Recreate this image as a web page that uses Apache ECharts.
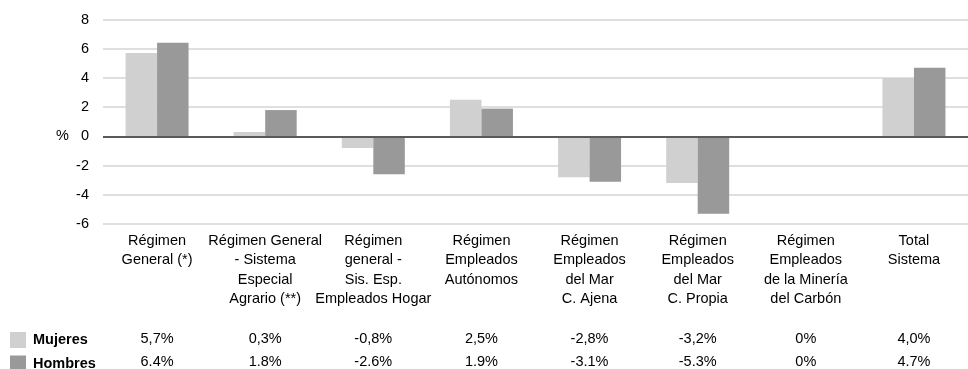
<!DOCTYPE html>
<html>
<head>
<meta charset="utf-8">
<script src="https://cdn.jsdelivr.net/npm/echarts@6/dist/echarts.min.js"></script>
<style>
  html, body { margin: 0; padding: 0; background: #fff; }
  #chart { width: 968px; height: 369px; }
</style>
</head>
<body>
<div id="chart"></div>
<script>
// Regímenes de la Seguridad Social
const categories = [
  'Régimen\nGeneral (*)',
  'Régimen General\n- Sistema\nEspecial\nAgrario (**)',
  'Régimen\ngeneral -\nSis. Esp.\nEmpleados Hogar',
  'Régimen\nEmpleados\nAutónomos',
  'Régimen\nEmpleados\ndel Mar\nC. Ajena',
  'Régimen\nEmpleados\ndel Mar\nC. Propia',
  'Régimen\nEmpleados\nde la Minería\ndel Carbón',
  'Total\nSistema'
];
const mujeres = [5.7, 0.3, -0.8, 2.5, -2.8, -3.2, 0, 4.0];
const hombres = [6.4, 1.8, -2.6, 1.9, -3.1, -5.3, 0, 4.7];
const yTicks = { min: -6, max: 8, interval: 2 };

const FONT = "'Liberation Sans', Arial, sans-serif";
const FS = 14.5;

// percentage text for the table rows (Mujeres uses a comma, Hombres a dot)
function pct(v, sep) {
  if (v === 0) return '0%';
  return v.toFixed(1).replace('.', sep) + '%';
}

const tableAxis = (offset, values, sep) => ({
  type: 'category',
  data: categories,
  gridIndex: 0,
  position: 'bottom',
  offset: offset,
  axisLine: { show: false },
  axisTick: { show: false },
  splitLine: { show: false },
  axisLabel: {
    interval: 0,
    margin: 0,
    color: '#000',
    fontFamily: FONT,
    fontSize: FS,
    lineHeight: 19.5,
    formatter: (v, i) => pct(values[i], sep)
  }
});

const legendRow = (name, top) => ({
  orient: 'vertical',
  left: 5,
  top: top,
  itemWidth: 16,
  itemHeight: 16,
  icon: 'rect',
  itemStyle: { borderWidth: 0 },
  textStyle: { color: '#000', fontFamily: FONT, fontSize: FS, fontWeight: 'bold', lineHeight: 16, padding: [0, 0, 0, 2] },
  data: [name]
});

const chart = echarts.init(document.getElementById('chart'), null, { renderer: 'canvas' });
chart.setOption({
  animation: false,
  backgroundColor: '#fff',
  textStyle: { fontFamily: FONT },
  grid: {
    left: 103, right: 0, top: 19.5, bottom: 145,
    containLabel: false,
    outerBoundsMode: 'none'
  },
  legend: [legendRow('Mujeres', 327), legendRow('Hombres', 350.5)],
  xAxis: [
    {
      type: 'category',
      data: categories,
      gridIndex: 0,
      position: 'bottom',
      axisLine: { show: false, onZero: false },
      axisTick: { show: false },
      splitLine: { show: false },
      axisLabel: {
        interval: 0,
        margin: 7,
        color: '#000',
        fontFamily: FONT,
        fontSize: FS,
        lineHeight: 19.5
      }
    },
    tableAxis(105, mujeres, ','),
    tableAxis(128.5, hombres, '.')
  ],
  yAxis: {
    type: 'value',
    min: yTicks.min,
    max: yTicks.max,
    interval: yTicks.interval,
    axisLine: { show: false },
    axisTick: { show: false },
    splitLine: { lineStyle: { color: '#d4d4d4', width: 1.5 } },
    axisLabel: {
      margin: 14,
      color: '#000',
      fontFamily: FONT,
      fontSize: FS,
      formatter: v => (v === 0 ? '%   0' : String(v))
    }
  },
  series: [
    {
      name: 'Mujeres',
      type: 'bar',
      xAxisIndex: 0,
      data: mujeres,
      barWidth: 31.5,
      barGap: '0%',
      itemStyle: { color: '#d0d0d0' },
      markLine: {
        silent: true,
        symbol: 'none',
        label: { show: false },
        lineStyle: { color: '#5a5a5a', width: 2, type: 'solid' },
        data: [{ yAxis: 0 }]
      }
    },
    {
      name: 'Hombres',
      type: 'bar',
      xAxisIndex: 0,
      data: hombres,
      barWidth: 31.5,
      barGap: '0%',
      itemStyle: { color: '#999999' }
    }
  ]
});
</script>
</body>
</html>
